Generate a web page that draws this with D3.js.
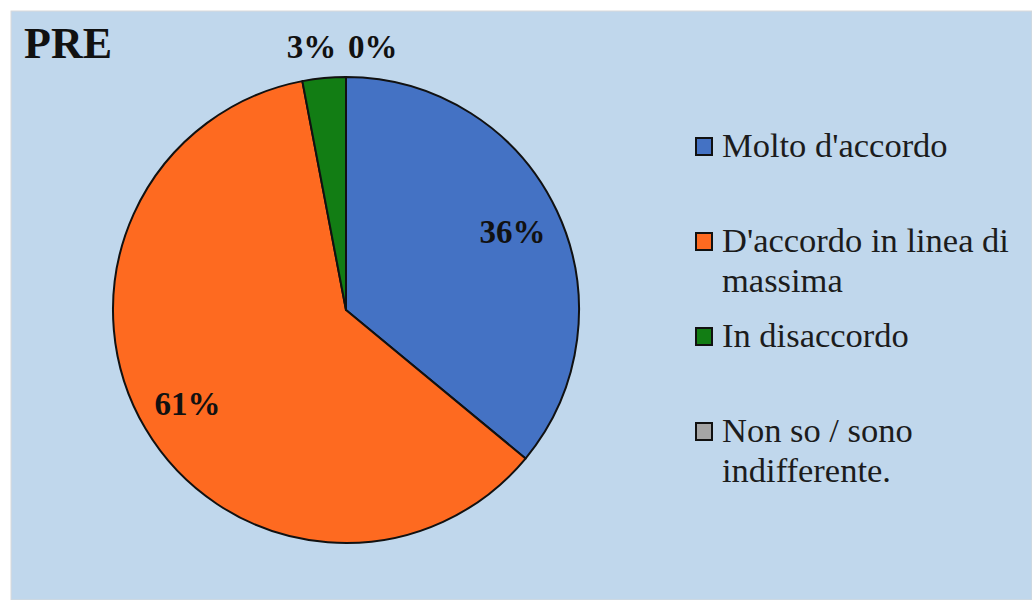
<!DOCTYPE html>
<html>
<head>
<meta charset="utf-8">
<script src="https://cdn.jsdelivr.net/npm/d3@7"></script>
<style>
  html, body { margin: 0; padding: 0; background: #fff; }
  svg { display: block; }
</style>
</head>
<body>
<script>
const width = 1032;
const height = 600;

// Risposte (percentuali)
const categories = ["Molto d'accordo", "D'accordo in linea di massima", "In disaccordo", "Non so / sono indifferente."];
const values = [36, 61, 3, 0];
// righe della legenda come appaiono nel grafico
const legendLines = [["Molto d'accordo"], ["D'accordo in linea di", "massima"], ["In disaccordo"], ["Non so / sono", "indifferente."]];
const colors = ["#4472c4", "#fe6a20", "#127d14", "#a5a5a5"];
const title = "PRE";

const cx = 346, cy = 310, R = 233;

const svg = d3.select("body").append("svg")
    .attr("width", width)
    .attr("height", height);

// pannello azzurro
svg.append("rect")
    .attr("x", 11).attr("y", 11)
    .attr("width", width - 11).attr("height", height - 11)
    .attr("fill", "#c0d7ec")
    .attr("stroke", "#d9d9d9")
    .attr("stroke-width", 1);

svg.append("text")
    .attr("x", 24).attr("y", 58)
    .attr("font-family", "'Liberation Serif', 'DejaVu Serif', serif")
    .attr("font-weight", "bold")
    .attr("font-size", 44)
    .attr("fill", "#111")
    .text(title);

const pie = d3.pie().sort(null).value(d => d);
const arcs = pie(values);
const arc = d3.arc().innerRadius(0).outerRadius(R);

const g = svg.append("g").attr("transform", `translate(${cx},${cy})`);

g.selectAll("path.slice")
  .data(arcs.filter(d => d.value > 0))
  .join("path")
    .attr("class", "slice")
    .attr("d", arc)
    .attr("fill", d => colors[d.index])
    .attr("stroke", "#111")
    .attr("stroke-width", 2)
    .attr("stroke-linejoin", "round");

// etichette: dentro per le fette grandi, fuori (sopra) per le piccole
const inner = d3.arc().innerRadius(R * 0.79).outerRadius(R * 0.79);
const labelFont = "'Liberation Serif', 'DejaVu Serif', serif";

arcs.forEach(d => {
  const mid = (d.startAngle + d.endAngle) / 2;
  let x, y, anchor = "middle";
  if (d.value >= 10) {
    const c = inner.centroid(d);
    x = c[0];
    y = c[1] + 11;
  } else {
    const s = Math.sin(mid);
    x = (R + 30) * s;
    y = -(R + 19);
    if (s < -1e-6) { anchor = "end"; x += 15; }
    else { anchor = "start"; x += 2; }
  }
  g.append("text")
      .attr("x", x).attr("y", y)
      .attr("text-anchor", anchor)
      .attr("font-family", labelFont)
      .attr("font-weight", "bold")
      .attr("font-size", 33)
      .attr("fill", "#111")
      .text(d.value + "%");
});

// legenda
const legendY = d3.scalePoint()
    .domain(categories)
    .range([157, 442]);

const legend = svg.append("g");
categories.forEach((c, i) => {
  const by = legendY(c);
  legend.append("rect")
      .attr("x", 696).attr("y", by - 19)
      .attr("width", 16).attr("height", 17)
      .attr("fill", colors[i])
      .attr("stroke", "#111")
      .attr("stroke-width", 2);
  const t = legend.append("text")
      .attr("x", 722).attr("y", by)
      .attr("font-family", labelFont)
      .attr("font-size", 34.5)
      .attr("fill", "#1c1c1c");
  legendLines[i].forEach((line, j) => {
    t.append("tspan")
        .attr("x", 722)
        .attr("dy", j === 0 ? 0 : 40)
        .text(line);
  });
});
</script>
</body>
</html>
